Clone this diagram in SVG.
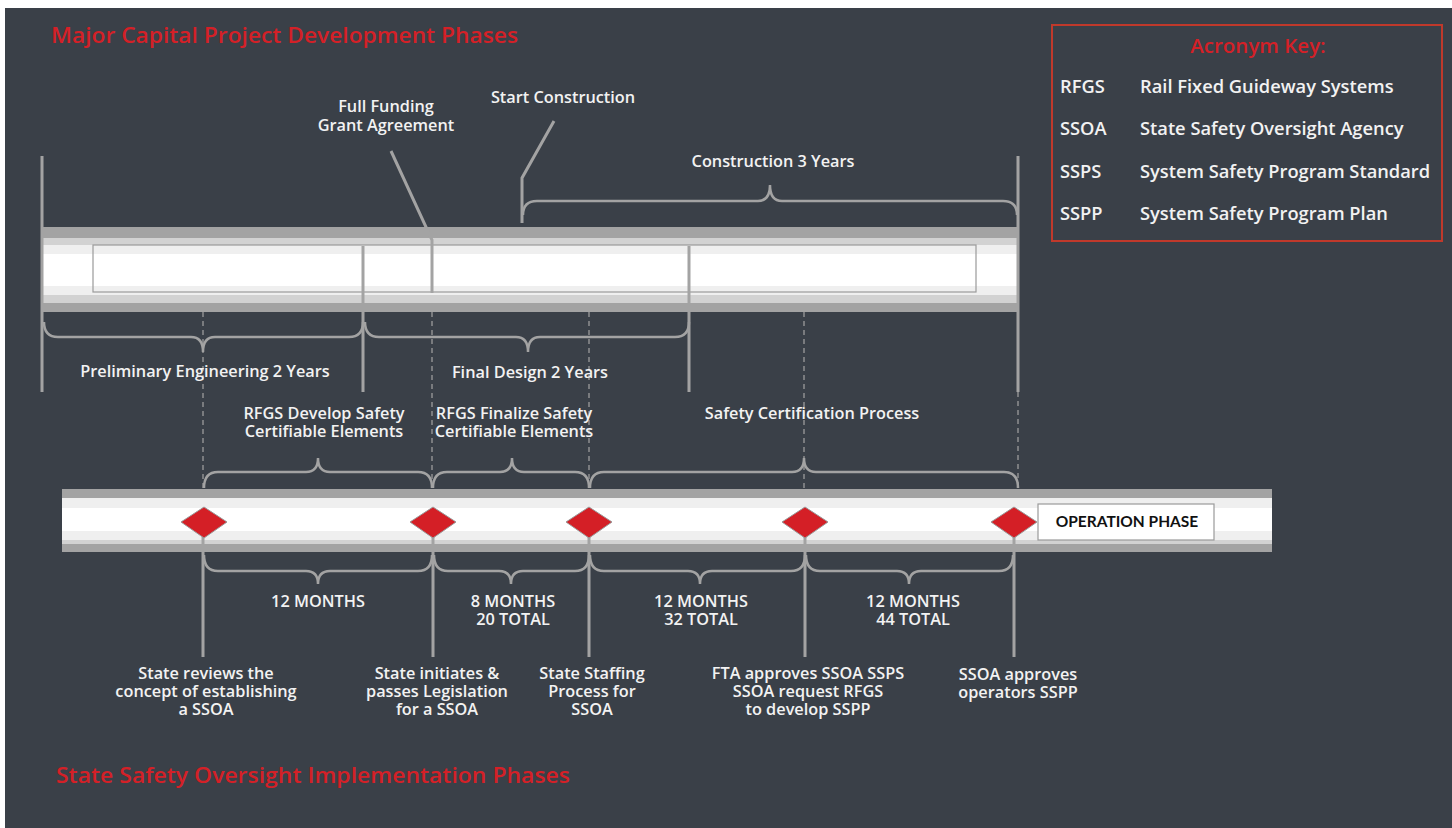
<svg xmlns="http://www.w3.org/2000/svg" width="1452" height="828" viewBox="0 0 1452 828">
<style>
.lbl{font-family:"Open Sans","Liberation Sans",sans-serif;font-weight:600;font-size:16.3px;fill:#f2f2f2;text-anchor:middle}
.ttl{font-family:"Open Sans","Liberation Sans",sans-serif;font-weight:600;font-size:22px;fill:#d42027}
.key{font-family:"Open Sans","Liberation Sans",sans-serif;font-weight:600;font-size:18.3px;fill:#f2f2f2}
.ln{stroke:#a3a3a3;stroke-width:3;fill:none}
.br{stroke:#a3a3a3;stroke-width:2.5;fill:none}
.dash{stroke:#a3a3a3;stroke-width:1.2;stroke-dasharray:5 4;fill:none}
.dia{fill:#d41f26;stroke:#9a9a9a;stroke-width:1}
</style>
<rect x="0" y="0" width="1452" height="828" fill="#ffffff"/>
<rect x="5" y="8" width="1447" height="820" fill="#3a4048"/>

<g id="titles">
<text class="ttl" x="51" y="43" textLength="467" lengthAdjust="spacingAndGlyphs">Major Capital Project Development Phases</text>
<text class="ttl" x="56" y="783" textLength="514" lengthAdjust="spacingAndGlyphs">State Safety Oversight Implementation Phases</text>
</g>

<g id="acronym-key">
<rect x="1052" y="25" width="390" height="216" fill="none" stroke="#c0392b" stroke-width="2"/>
<text class="ttl" x="1258" y="53" text-anchor="middle" style="font-size:20.5px">Acronym Key:</text>
<text class="key" x="1060" y="93">RFGS</text><text class="key" x="1140" y="93">Rail Fixed Guideway Systems</text>
<text class="key" x="1060" y="135">SSOA</text><text class="key" x="1140" y="135">State Safety Oversight Agency</text>
<text class="key" x="1060" y="178">SSPS</text><text class="key" x="1140" y="178">System Safety Program Standard</text>
<text class="key" x="1060" y="220">SSPP</text><text class="key" x="1140" y="220">System Safety Program Plan</text>
</g>

<g id="top-bar">
<rect x="43" y="227" width="975" height="85" fill="#a3a3a3"/>
<rect x="43" y="238" width="975" height="65" fill="#d2d2d2"/>
<rect x="43" y="245" width="975" height="50" fill="#efefef"/>
<rect x="43" y="254" width="975" height="32" fill="#ffffff"/>
<rect x="93" y="245" width="883" height="47" fill="none" stroke="#9a9a9a" stroke-width="1.2"/>
</g>

<g id="bottom-bar">
<rect x="62" y="489" width="1210" height="63" fill="#a3a3a3"/>
<rect x="62" y="498" width="1210" height="46" fill="#d2d2d2"/>
<rect x="62" y="498" width="1210" height="42" fill="#efefef"/>
<rect x="62" y="508" width="1210" height="23" fill="#ffffff"/>
</g>

<g id="connectors">
<path class="dash" d="M203,312 V488 M432,312 V488 M589,312 V488 M804,312 V488 M1018,392 V488"/>
<path class="ln" d="M42,156 V392 M1018,156 V392 M363,246 V392 M689,246 V392"/>
<path class="ln" d="M391,151 L432,240 V293"/>
<path class="ln" d="M554,121 L522,178 V223"/>
<path class="ln" d="M203,537 V657 M433,537 V657 M589,537 V657 M805,537 V657 M1014,537 V657"/>
<path class="br" d="M44,322 Q44,337 58,337 L191,337 Q203,337 203,352 Q203,337 215,337 L349,337 Q363,337 363,322"/>
<path class="br" d="M365,322 Q365,337 379,337 L516,337 Q528,337 528,352 Q528,337 540,337 L675,337 Q689,337 689,322"/>
<path class="br" d="M523,215 Q523,201 537,201 L758,201 Q770,201 770,185 Q770,201 782,201 L1003,201 Q1017,201 1017,215"/>
<path class="br" d="M204,488 Q204,472 218,472 L306,472 Q318,472 318,458 Q318,472 330,472 L418,472 Q432,472 432,488"/>
<path class="br" d="M433,488 Q433,472 447,472 L500,472 Q512,472 512,458 Q512,472 524,472 L575,472 Q589,472 589,488"/>
<path class="br" d="M590,488 Q590,472 604,472 L792,472 Q804,472 804,458 Q804,472 816,472 L1004,472 Q1018,472 1018,488"/>
<path class="br" d="M204,555 Q204,571 218,571 L306,571 Q318,571 318,584 Q318,571 330,571 L418,571 Q432,571 432,555"/>
<path class="br" d="M434,555 Q434,571 448,571 L499,571 Q511,571 511,584 Q511,571 523,571 L575,571 Q589,571 589,555"/>
<path class="br" d="M590,555 Q590,571 604,571 L688,571 Q700,571 700,584 Q700,571 712,571 L791,571 Q805,571 805,555"/>
<path class="br" d="M806,555 Q806,571 820,571 L897,571 Q909,571 909,584 Q909,571 921,571 L999,571 Q1013,571 1013,555"/>
</g>

<g id="milestones">
<path class="dia" d="M181,522 L204,507 L227,522 L204,538 Z"/>
<path class="dia" d="M410,522 L433,507 L456,522 L433,538 Z"/>
<path class="dia" d="M566,522 L589,507 L612,522 L589,538 Z"/>
<path class="dia" d="M782,522 L805,507 L828,522 L805,538 Z"/>
<path class="dia" d="M991,522 L1014,507 L1037,522 L1014,538 Z"/>
</g>

<g id="operation-phase">
<rect x="1038" y="504" width="176" height="36" fill="#ffffff" stroke="#9a9a9a" stroke-width="1.2"/>
<text class="lbl" x="1127" y="527" style="fill:#111111;font-family:Lato,'Liberation Sans',sans-serif;font-weight:700;font-size:15.5px">OPERATION PHASE</text>
</g>

<g id="top-labels">
<text class="lbl" x="386" y="112">Full Funding<tspan x="386" dy="19">Grant Agreement</tspan></text>
<text class="lbl" x="563" y="103">Start Construction</text>
<text class="lbl" x="773" y="167">Construction 3 Years</text>
<text class="lbl" x="205" y="377">Preliminary Engineering 2 Years</text>
<text class="lbl" x="530" y="378">Final Design 2 Years</text>
<text class="lbl" x="324" y="419">RFGS Develop Safety<tspan x="324" dy="18">Certifiable Elements</tspan></text>
<text class="lbl" x="514" y="419">RFGS Finalize Safety<tspan x="514" dy="18">Certifiable Elements</tspan></text>
<text class="lbl" x="812" y="419">Safety Certification Process</text>
</g>

<g id="durations">
<text class="lbl" x="318" y="607">12 MONTHS</text>
<text class="lbl" x="513" y="607">8 MONTHS<tspan x="513" dy="18">20 TOTAL</tspan></text>
<text class="lbl" x="701" y="607">12 MONTHS<tspan x="701" dy="18">32 TOTAL</tspan></text>
<text class="lbl" x="913" y="607">12 MONTHS<tspan x="913" dy="18">44 TOTAL</tspan></text>
</g>

<g id="milestone-labels">
<text class="lbl" x="206" y="679">State reviews the<tspan x="206" dy="18">concept of establishing</tspan><tspan x="206" dy="18">a SSOA</tspan></text>
<text class="lbl" x="437" y="679">State initiates &amp;<tspan x="437" dy="18">passes Legislation</tspan><tspan x="437" dy="18">for a SSOA</tspan></text>
<text class="lbl" x="592" y="679">State Staffing<tspan x="592" dy="18">Process for</tspan><tspan x="592" dy="18">SSOA</tspan></text>
<text class="lbl" x="808" y="679">FTA approves SSOA SSPS<tspan x="808" dy="18">SSOA request RFGS</tspan><tspan x="808" dy="18">to develop SSPP</tspan></text>
<text class="lbl" x="1018" y="680">SSOA approves<tspan x="1018" dy="18">operators SSPP</tspan></text>
</g>
</svg>
